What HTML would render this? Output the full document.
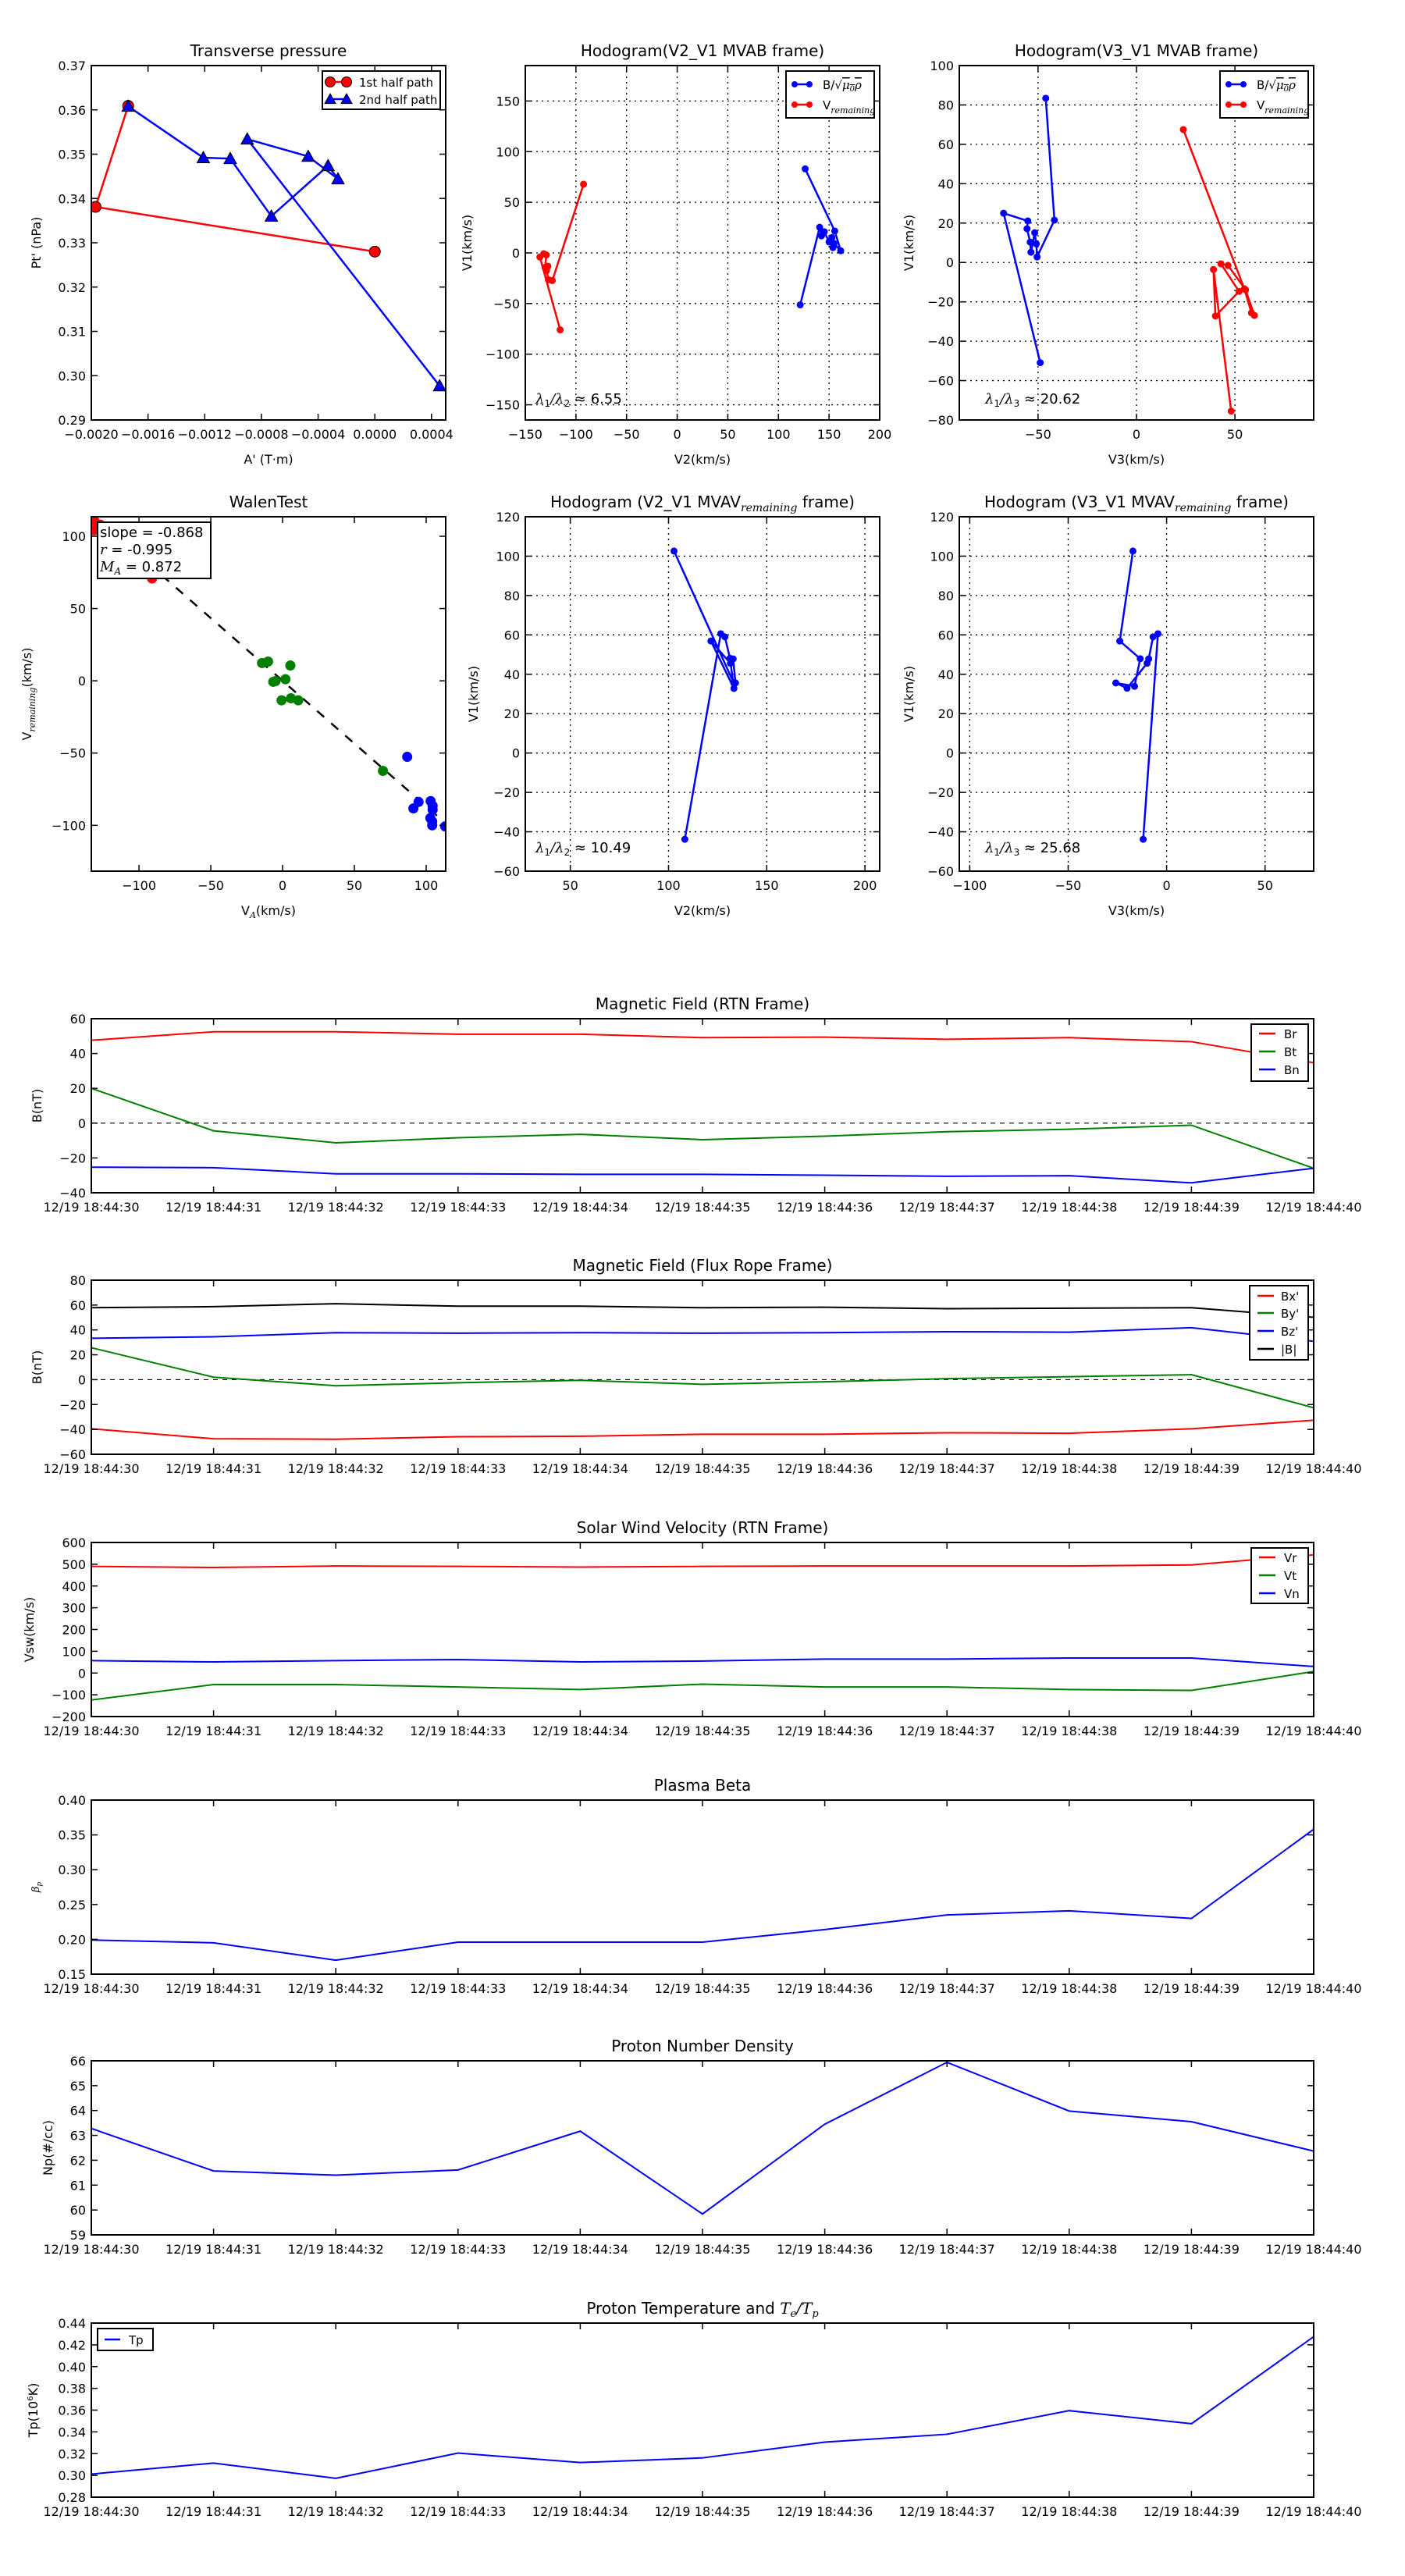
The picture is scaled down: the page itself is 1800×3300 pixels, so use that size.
<!DOCTYPE html>
<html><head><meta charset="utf-8"><title>Flux rope analysis</title>
<style>
html,body{margin:0;padding:0;background:#fff;}
svg{display:block;font-family:"DejaVu Sans","Liberation Sans",sans-serif;}
</style></head>
<body>
<svg id="fig" xmlns="http://www.w3.org/2000/svg" width="1800" height="3300" viewBox="0 0 1800 3300"></svg>
<script>
// ---------- DATA ----------
const tpRedX=[0.0,-0.00197,-0.00174];
const tpRedY=[0.3280,0.3381,0.3609];
const tpBlueX=[-0.00174,-0.00121,-0.00102,-0.00073,-0.00033,-0.00026,-0.00047,-0.00090,0.000457];
const tpBlueY=[0.3608,0.3492,0.3490,0.3360,0.3474,0.3444,0.3495,0.3534,0.2977];

const h1BX=[126.4,155.6,161.5,154.8,153.8,152.8,150,145.3,142.5,140.7,121.5];
const h1BY=[83,21.6,2.1,9.5,5.2,15.2,10.8,20.9,16.8,25.3,-51.3];
const h1VX=[-92.5,-123.3,-127.2,-129,-127.7,-130.5,-129.2,-131.8,-135.6,-115.6];
const h1VY=[67.8,-27.3,-26.5,-17.5,-13.1,-14.4,-2,-0.8,-4.1,-76];

const h2BX=[-46.1,-41.7,-50.5,-50.9,-51.7,-53.6,-54,-55.6,-55.2,-67.5,-48.9];
const h2BY=[83.4,21.5,2.8,9.5,15.1,5.2,10.3,17.1,21.1,25,-50.9];
const h2VX=[23.8,54.8,58.4,59.9,55.4,46.5,42.9,52.1,40.1,39.1,48.1];
const h2VY=[67.5,-13.4,-25.6,-26.9,-13.9,-1.5,-0.7,-14.7,-27.2,-3.6,-75.5];

const walGX=[-14.3,-10.1,5.4,-6.5,-4.9,2,-0.7,5.8,10.9,69.9];
const walGY=[12.3,13.3,10.6,-0.7,-0.2,1.1,-13.5,-12.1,-13.5,-62.3];
const walBX=[86.8,91.1,94.7,103.1,104.5,104.5,102.9,104.2,104.2,113.2];
const walBY=[-52.6,-88.3,-83.8,-83.2,-86.5,-89.2,-95,-97.3,-100,-100.7];
const walRX=[-90.9,-131.3,-131.3,-127,-134];
const walRY=[70.8,104.1,111,108,115];
const walSlope=[-0.868];

const h3X=[102.8,133.2,134.1,132.9,131.5,121.6,133.3,131.3,128.7,126.6,108.3];
const h3Y=[102.6,35.6,35.6,47.8,45.6,56.9,32.8,48.1,59,60.6,-43.8];
const h4X=[-17.1,-23.8,-13.4,-16.3,-25.8,-20.1,-9.9,-9.1,-6.9,-4.4,-11.9];
const h4Y=[102.6,56.9,47.9,33.9,35.6,32.9,45.6,47.8,59,60.6,-43.8];

const tIdx=[0,1,2,3,4,5,6,7,8,9,10];
const tLabels=["12/19 18:44:30","12/19 18:44:31","12/19 18:44:32","12/19 18:44:33","12/19 18:44:34","12/19 18:44:35","12/19 18:44:36","12/19 18:44:37","12/19 18:44:38","12/19 18:44:39","12/19 18:44:40"];
const Br=[47.6,52.5,52.5,51.1,51.1,49.1,49.4,48.2,49.1,46.8,34.7];
const Bt=[20,-4.4,-11.3,-8.4,-6.4,-9.5,-7.5,-4.9,-3.5,-1.2,-25.9];
const Bn=[-25.3,-25.6,-29.1,-29.1,-29.4,-29.4,-29.9,-30.5,-30.2,-34.3,-25.9];
const Bxp=[-39.5,-47.5,-47.9,-45.9,-45.5,-43.9,-43.9,-42.7,-43.1,-39.5,-32.6];
const Byp=[25.7,2,-4.9,-2.5,-0.5,-3.7,-1.7,0.8,2.4,4,-22.6];
const Bzp=[33.3,34.5,37.8,37.4,37.8,37.4,37.8,38.6,38.2,41.8,30.9];
const Bmag=[57.9,58.7,61.1,59.1,59.1,57.9,58.3,57.1,57.5,57.9,50.2];
const Vr=[490,485,492,490,487,490,492,492,492,497,543];
const Vt=[-124,-53,-53,-64,-76,-51,-64,-64,-76,-80,7];
const Vn=[57,51,57,62,51,55,64,64,69,69,30];
const beta=[0.199,0.195,0.170,0.196,0.196,0.196,0.214,0.235,0.241,0.230,0.358];
const Np=[63.28,61.57,61.40,61.61,63.17,59.84,63.45,65.94,63.98,63.55,62.37];
const Tp=[0.3012,0.3113,0.2973,0.3205,0.3118,0.3161,0.3306,0.3378,0.3595,0.3475,0.4275];

// ---------- HELPERS ----------
const NS='http://www.w3.org/2000/svg';
const svg=document.getElementById('fig');
let clipId=0;
function el(tag,parent){const e=document.createElementNS(NS,tag);parent.appendChild(e);return e;}
function fmtMinus(s){return s.replace('-','\u2212');}
function range(a,b,s){const r=[];for(let v=a;v<=b+s*1e-6;v+=s)r.push(+v.toFixed(6));return r;}

function makeAxes(o){
  const g=el('g',svg);
  
  
  const sx=v=>o.L+(v-o.x0)/(o.x1-o.x0)*(o.R-o.L);
  const sy=v=>o.B-(v-o.y0)/(o.y1-o.y0)*(o.B-o.T);
  const cid='clip'+(clipId++);
  const cp=el('clipPath',g);cp.setAttribute('id',cid);
  const cr=el('rect',cp);cr.setAttribute('x',o.L);cr.setAttribute('y',o.T);cr.setAttribute('width',o.R-o.L);cr.setAttribute('height',o.B-o.T);
  if(o.grid){
    const gg=el('g',g);
    
    
    o.xticks.forEach(v=>{const l=el('line',gg);l.setAttribute('x1',sx(v));l.setAttribute('x2',sx(v));l.setAttribute('y1',o.T);l.setAttribute('y2',o.B);l.setAttribute('stroke','#000');l.setAttribute('stroke-width','1.3');l.setAttribute('stroke-dasharray','2,5');});
    o.yticks.forEach(v=>{const l=el('line',gg);l.setAttribute('y1',sy(v));l.setAttribute('y2',sy(v));l.setAttribute('x1',o.L);l.setAttribute('x2',o.R);l.setAttribute('stroke','#000');l.setAttribute('stroke-width','1.3');l.setAttribute('stroke-dasharray','2,5');});
  }
  const data=el('g',g);
  data.setAttribute('clip-path','url(#'+cid+')');
  
  
  const tk=el('g',g);
  
  
  o.xticks.forEach((v,i)=>{
    const x=sx(v);
    [[o.B,o.B-8],[o.T,o.T+8]].forEach(p=>{const l=el('line',tk);l.setAttribute('x1',x);l.setAttribute('x2',x);l.setAttribute('y1',p[0]);l.setAttribute('y2',p[1]);l.setAttribute('stroke','#000');l.setAttribute('stroke-width','1.5');});
    const t=el('text',tk);t.setAttribute('x',x);t.setAttribute('y',o.B+24);t.setAttribute('text-anchor','middle');t.setAttribute('font-size','16');
    t.textContent=o.xlabels[i];
    
    
  });
  o.yticks.forEach((v,i)=>{
    const y=sy(v);
    [[o.L,o.L+8],[o.R,o.R-8]].forEach(p=>{const l=el('line',tk);l.setAttribute('y1',y);l.setAttribute('y2',y);l.setAttribute('x1',p[0]);l.setAttribute('x2',p[1]);l.setAttribute('stroke','#000');l.setAttribute('stroke-width','1.5');});
    const t=el('text',tk);t.setAttribute('x',o.L-7);t.setAttribute('y',y+6);t.setAttribute('text-anchor','end');t.setAttribute('font-size','16');
    t.textContent=o.ylabels[i];
    
    
  });
  const fr=el('rect',g);fr.setAttribute('x',o.L);fr.setAttribute('y',o.T);fr.setAttribute('width',o.R-o.L);fr.setAttribute('height',o.B-o.T);fr.setAttribute('fill','none');fr.setAttribute('stroke','#000');fr.setAttribute('stroke-width','2');
  
  
  const tt=el('text',g);tt.setAttribute('x',(o.L+o.R)/2);tt.setAttribute('y',o.T-12);tt.setAttribute('text-anchor','middle');tt.setAttribute('font-size','20');
  tt.innerHTML=o.title;
  
  
  if(o.xlabel){const t=el('text',g);t.setAttribute('x',(o.L+o.R)/2);t.setAttribute('y',o.B+56);t.setAttribute('text-anchor','middle');t.setAttribute('font-size','16');t.innerHTML=o.xlabel;
    
    }
  if(o.ylabel){const t=el('text',g);const cy=(o.T+o.B)/2;t.setAttribute('x',o.ylx);t.setAttribute('y',cy);t.setAttribute('text-anchor','middle');t.setAttribute('font-size','16');t.setAttribute('transform','rotate(-90 '+o.ylx+' '+cy+')');t.innerHTML=o.ylabel;
    
    }
  return {g,data,sx,sy};
}
function line(ax,xs,ys,color,w,name,dash){
  const p=el('polyline',ax.data);
  p.setAttribute('points',xs.map((x,i)=>ax.sx(x)+','+ax.sy(ys[i])).join(' '));
  p.setAttribute('fill','none');p.setAttribute('stroke',color);p.setAttribute('stroke-width',w);
  if(dash)p.setAttribute('stroke-dasharray',dash);
  
  
  return p;
}
function dots(ax,xs,ys,color,r,name,stroke){
  xs.forEach((x,i)=>{const c=el('circle',ax.data);c.setAttribute('cx',ax.sx(x));c.setAttribute('cy',ax.sy(ys[i]));c.setAttribute('r',r);c.setAttribute('fill',color);
    if(stroke){c.setAttribute('stroke','#000');c.setAttribute('stroke-width','1');}
    
    });
}
function tris(ax,xs,ys,color,s,name){
  xs.forEach((x,i)=>{const cx=ax.sx(x),cy=ax.sy(ys[i]);const p=el('polygon',ax.data);
    p.setAttribute('points',cx+','+(cy-s)+' '+(cx-s)+','+(cy+s*0.8)+' '+(cx+s)+','+(cy+s*0.8));
    p.setAttribute('fill',color);p.setAttribute('stroke','#000');p.setAttribute('stroke-width','1');
    
    });
}
function legend(x,y,w,h,items,name){
  const g=el('g',svg);
  
  
  const r=el('rect',g);r.setAttribute('x',x);r.setAttribute('y',y);r.setAttribute('width',w);r.setAttribute('height',h);r.setAttribute('fill','#fff');r.setAttribute('stroke','#000');r.setAttribute('stroke-width','2');
  items.forEach(it=>{
    const e=el('g',g);
    
    
    const l=el('line',e);l.setAttribute('x1',x+it.lx1);l.setAttribute('x2',x+it.lx2);l.setAttribute('y1',y+it.y);l.setAttribute('y2',y+it.y);l.setAttribute('stroke',it.c);l.setAttribute('stroke-width','2.5');
    if(it.m==='o'){[it.lx1,it.lx2].forEach(px=>{const c=el('circle',e);c.setAttribute('cx',x+px);c.setAttribute('cy',y+it.y);c.setAttribute('r',it.mr);c.setAttribute('fill',it.c);if(it.ms){c.setAttribute('stroke','#000');}});}
    if(it.m==='^'){[it.lx1,it.lx2].forEach(px=>{const p=el('polygon',e);const cx=x+px,cy=y+it.y,s=7;p.setAttribute('points',cx+','+(cy-s)+' '+(cx-s)+','+(cy+s*0.8)+' '+(cx+s)+','+(cy+s*0.8));p.setAttribute('fill',it.c);p.setAttribute('stroke','#000');});}
    const t=el('text',e);t.setAttribute('x',x+it.tx);t.setAttribute('y',y+it.y+6);t.setAttribute('font-size',it.fs||15);t.innerHTML=it.t;
  });
}
function mathText(x,y,html,name){
  const t=el('text',svg);t.setAttribute('x',x);t.setAttribute('y',y);t.setAttribute('font-size','18');t.innerHTML=html;
  
  
}
const lamI='<tspan font-family="DejaVu Serif,Liberation Serif,serif" font-style="italic">λ</tspan>';
function ratio(a,b,v){return lamI+'<tspan font-size="12" dy="4">'+a+'</tspan><tspan dy="-4" font-family="DejaVu Serif,serif" font-style="italic">/</tspan>'+lamI+'<tspan font-size="12" dy="4">'+b+'</tspan><tspan dy="-4"> ≈ '+v+'</tspan>';}
const Bsym='B/√<tspan font-family="DejaVu Serif,serif" font-style="italic" text-decoration="overline">μ<tspan font-size="10" dy="3">0</tspan><tspan dy="-3">ρ</tspan></tspan>';
const Vrem='V<tspan font-family="DejaVu Serif,serif" font-style="italic" font-size="11" dy="5">remaining</tspan>';

// ---------- TOP ROW ----------
const a1=makeAxes({name:'transverse-pressure-chart',L:117,R:571,T:84,B:538,x0:-0.002,x1:0.0005,y0:0.29,y1:0.37,
  xticks:range(-0.002,0.0004,0.0004),xlabels:range(-0.002,0.0004,0.0004).map(v=>fmtMinus(v.toFixed(4))),
  yticks:range(0.29,0.37,0.01),ylabels:range(0.29,0.37,0.01).map(v=>v.toFixed(2)),
  title:'Transverse pressure',xlabel:"A' (T·m)",ylabel:"Pt' (nPa)",ylx:52});
line(a1,tpRedX,tpRedY,'#f00',2.5,'first-half-path-line');
dots(a1,tpRedX,tpRedY,'#f00',7,'first-half-point',true);
line(a1,tpBlueX,tpBlueY,'#00f',2.5,'second-half-path-line');
tris(a1,tpBlueX,tpBlueY,'#00f',8,'second-half-point');
legend(413,91,151,49,[{lx1:10,lx2:31,y:14,c:'#f00',m:'o',mr:6.5,ms:1,t:'1st half path',tx:47},{lx1:10,lx2:31,y:36,c:'#00f',m:'^',t:'2nd half path',tx:47}],'pressure-legend');

const a2=makeAxes({name:'hodogram-v2-v1-mvab',L:673,R:1127,T:84,B:538,x0:-150,x1:200,y0:-165,y1:185,
  xticks:range(-150,200,50),xlabels:range(-150,200,50).map(v=>fmtMinus(String(v))),
  yticks:range(-150,150,50),ylabels:range(-150,150,50).map(v=>fmtMinus(String(v))),grid:true,
  title:'Hodogram(V2_V1 MVAB frame)',xlabel:'V2(km/s)',ylabel:'V1(km/s)',ylx:604});
line(a2,h1BX,h1BY,'#00f',2.5,'b-hodogram-line');dots(a2,h1BX,h1BY,'#00f',4.5,'b-hodogram-point');
line(a2,h1VX,h1VY,'#f00',2.5,'v-hodogram-line');dots(a2,h1VX,h1VY,'#f00',4.5,'v-hodogram-point');
legend(1007,91,113,60,[{lx1:11,lx2:30,y:17,c:'#00f',m:'o',mr:4,t:Bsym,tx:47},{lx1:11,lx2:30,y:43,c:'#f00',m:'o',mr:4,t:Vrem,tx:47}],'hodogram-legend');
mathText(686,517,ratio(1,2,'6.55'),'eigenvalue-ratio');

const a3=makeAxes({name:'hodogram-v3-v1-mvab',L:1229,R:1683,T:84,B:538,x0:-90,x1:90,y0:-80,y1:100,
  xticks:[-50,0,50],xlabels:['\u221250','0','50'],
  yticks:range(-80,100,20),ylabels:range(-80,100,20).map(v=>fmtMinus(String(v))),grid:true,
  title:'Hodogram(V3_V1 MVAB frame)',xlabel:'V3(km/s)',ylabel:'V1(km/s)',ylx:1170});
line(a3,h2BX,h2BY,'#00f',2.5,'b-hodogram-line');dots(a3,h2BX,h2BY,'#00f',4.5,'b-hodogram-point');
line(a3,h2VX,h2VY,'#f00',2.5,'v-hodogram-line');dots(a3,h2VX,h2VY,'#f00',4.5,'v-hodogram-point');
legend(1563,91,113,60,[{lx1:11,lx2:30,y:17,c:'#00f',m:'o',mr:4,t:Bsym,tx:47},{lx1:11,lx2:30,y:43,c:'#f00',m:'o',mr:4,t:Vrem,tx:47}],'hodogram-legend');
mathText(1262,517,ratio(1,3,'20.62'),'eigenvalue-ratio');

// ---------- SECOND ROW ----------
const a4=makeAxes({name:'walen-test-chart',L:117,R:571,T:662,B:1116,x0:-133.2,x1:113.6,y0:-131.7,y1:113.5,
  xticks:range(-100,100,50),xlabels:range(-100,100,50).map(v=>fmtMinus(String(v))),
  yticks:range(-100,100,50),ylabels:range(-100,100,50).map(v=>fmtMinus(String(v))),
  title:'WalenTest',xlabel:'V<tspan font-family="DejaVu Serif,serif" font-style="italic" font-size="11" dy="4">A</tspan><tspan dy="-4">(km/s)</tspan>',ylabel:Vrem+'<tspan dy="-5">(km/s)</tspan>',ylx:40});
const wlx=[-133.2,108];
line(a4,wlx,wlx.map(v=>v*walSlope[0]),'#000',2.5,'walen-fit-line','12,12');
dots(a4,walRX,walRY,'#f00',6.5,'walen-point-red');
dots(a4,walGX,walGY,'#008000',6.5,'walen-point-green');
dots(a4,walBX,walBY,'#00f',6.5,'walen-point-blue');
(function(){const g=el('g',svg);
  
  
  const r=el('rect',g);r.setAttribute('x',125);r.setAttribute('y',669);r.setAttribute('width',145);r.setAttribute('height',72);r.setAttribute('fill','#fff');r.setAttribute('stroke','#000');r.setAttribute('stroke-width','2');
  const L=['slope = -0.868','<tspan font-family="DejaVu Serif,serif" font-style="italic">r</tspan> = -0.995','<tspan font-family="DejaVu Serif,serif" font-style="italic">M<tspan font-size="12" dy="4">A</tspan></tspan><tspan dy="-4"> = 0.872</tspan>'];
  L.forEach((s,i)=>{const t=el('text',g);t.setAttribute('x',128);t.setAttribute('y',688+i*22);t.setAttribute('font-size','18');t.innerHTML=s;});
})();

const a5=makeAxes({name:'hodogram-v2-v1-mvav',L:673,R:1127,T:662,B:1116,x0:27.1,x1:207.5,y0:-60,y1:120,
  xticks:[50,100,150,200],xlabels:['50','100','150','200'],
  yticks:range(-60,120,20),ylabels:range(-60,120,20).map(v=>fmtMinus(String(v))),grid:true,
  title:'Hodogram (V2_V1 MVAV<tspan font-family="DejaVu Serif,serif" font-style="italic" font-size="14" dy="5">remaining</tspan><tspan dy="-5"> frame)</tspan>',xlabel:'V2(km/s)',ylabel:'V1(km/s)',ylx:612});
line(a5,h3X,h3Y,'#00f',2.5,'hodogram-line');dots(a5,h3X,h3Y,'#00f',4.5,'hodogram-point');
mathText(686,1092,ratio(1,2,'10.49'),'eigenvalue-ratio');

const a6=makeAxes({name:'hodogram-v3-v1-mvav',L:1229,R:1683,T:662,B:1116,x0:-105.3,x1:74.7,y0:-60,y1:120,
  xticks:[-100,-50,0,50],xlabels:['\u2212100','\u221250','0','50'],
  yticks:range(-60,120,20),ylabels:range(-60,120,20).map(v=>fmtMinus(String(v))),grid:true,
  title:'Hodogram (V3_V1 MVAV<tspan font-family="DejaVu Serif,serif" font-style="italic" font-size="14" dy="5">remaining</tspan><tspan dy="-5"> frame)</tspan>',xlabel:'V3(km/s)',ylabel:'V1(km/s)',ylx:1170});
line(a6,h4X,h4Y,'#00f',2.5,'hodogram-line');dots(a6,h4X,h4Y,'#00f',4.5,'hodogram-point');
mathText(1262,1092,ratio(1,3,'25.68'),'eigenvalue-ratio');

// ---------- TIME SERIES ----------
const TSR=1683;
function ts(name,T,y0,y1,step,dec,title,ylabel,ylx){
  return makeAxes({name,L:117,R:TSR,T,B:T+223,x0:0,x1:10,y0,y1,
    xticks:tIdx,xlabels:tLabels,yticks:range(y0,y1,step),ylabels:range(y0,y1,step).map(v=>fmtMinus(v.toFixed(dec))),
    title,ylabel,ylx});
}
const t1=ts('magnetic-field-rtn-chart',1305,-40,60,20,0,'Magnetic Field (RTN Frame)','B(nT)',53);
line(t1,[0,10],[0,0],'#000',1.2,'zero-line','6,6');
line(t1,tIdx,Br,'#f00',2,'br-line');line(t1,tIdx,Bt,'#008000',2,'bt-line');line(t1,tIdx,Bn,'#00f',2,'bn-line');
legend(1603,1312,73,73,[{lx1:10,lx2:31,y:12,c:'#f00',t:'Br',tx:42},{lx1:10,lx2:31,y:35,c:'#008000',t:'Bt',tx:42},{lx1:10,lx2:31,y:58,c:'#00f',t:'Bn',tx:42}],'rtn-legend');

const t2=ts('magnetic-field-flux-rope-chart',1640,-60,80,20,0,'Magnetic Field (Flux Rope Frame)','B(nT)',53);
line(t2,[0,10],[0,0],'#000',1.2,'zero-line','6,6');
line(t2,tIdx,Bxp,'#f00',2,'bx-line');line(t2,tIdx,Byp,'#008000',2,'by-line');line(t2,tIdx,Bzp,'#00f',2,'bz-line');line(t2,tIdx,Bmag,'#000',2,'bmag-line');
legend(1601,1647,75,95,[{lx1:10,lx2:31,y:13,c:'#f00',t:"Bx'",tx:40},{lx1:10,lx2:31,y:35,c:'#008000',t:"By'",tx:40},{lx1:10,lx2:31,y:58,c:'#00f',t:"Bz'",tx:40},{lx1:10,lx2:31,y:81,c:'#000',t:'|B|',tx:40}],'flux-rope-legend');

const t3=ts('solar-wind-velocity-chart',1976,-200,600,100,0,'Solar Wind Velocity (RTN Frame)','Vsw(km/s)',43);
line(t3,tIdx,Vr,'#f00',2,'vr-line');line(t3,tIdx,Vt,'#008000',2,'vt-line');line(t3,tIdx,Vn,'#00f',2,'vn-line');
legend(1603,1983,73,71,[{lx1:10,lx2:31,y:12,c:'#f00',t:'Vr',tx:42},{lx1:10,lx2:31,y:35,c:'#008000',t:'Vt',tx:42},{lx1:10,lx2:31,y:58,c:'#00f',t:'Vn',tx:42}],'velocity-legend');

const t4=ts('plasma-beta-chart',2306,0.15,0.40,0.05,2,'Plasma Beta','<tspan font-family="DejaVu Serif,serif" font-style="italic" font-size="13">β<tspan font-size="9" dy="3">p</tspan></tspan>',50);
line(t4,tIdx,beta,'#00f',2,'beta-line');

const t5=ts('proton-density-chart',2640,59,66,1,0,'Proton Number Density','Np(#/cc)',67);
line(t5,tIdx,Np,'#00f',2,'np-line');

const t6=ts('proton-temperature-chart',2976,0.28,0.44,0.02,2,'Proton Temperature and <tspan font-family="DejaVu Serif,serif" font-style="italic">T<tspan font-size="13" dy="4">e</tspan><tspan dy="-4">/T</tspan><tspan font-size="13" dy="4">p</tspan></tspan>','Tp(10<tspan font-size="10" dy="-6">6</tspan><tspan dy="6">K)</tspan>',48);
line(t6,tIdx,Tp,'#00f',2,'tp-line');
legend(125,2983,71,28,[{lx1:9,lx2:29,y:14,c:'#00f',t:'Tp',tx:40}],'tp-legend');
</script>
</body></html>
